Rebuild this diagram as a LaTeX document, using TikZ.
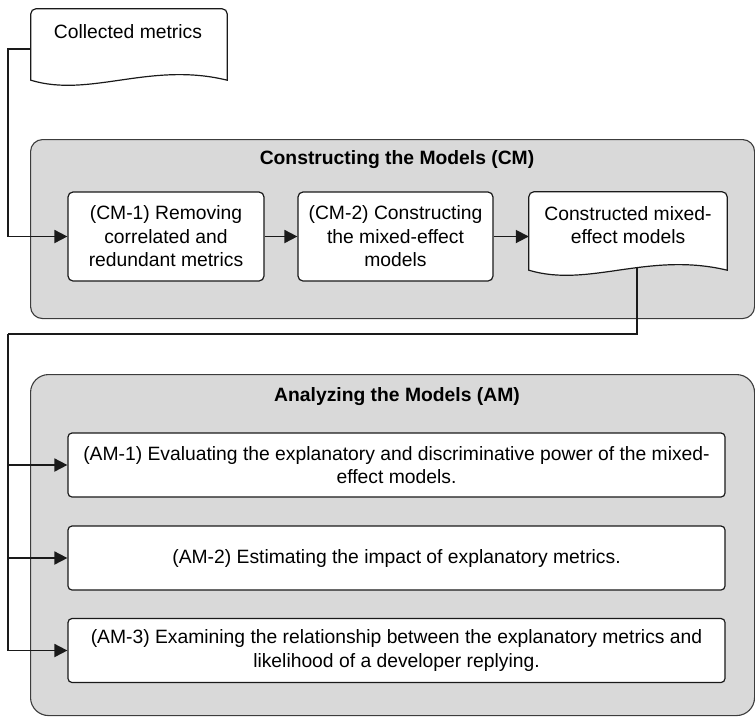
\documentclass[tikz,border=0pt]{standalone}
\usepackage{fontspec}
\setmainfont{Liberation Sans}
\usetikzlibrary{arrows.meta,calc}
\definecolor{panel}{HTML}{D9D9D9}
\definecolor{ink}{HTML}{1A1A1A}
\newcommand\dgtxt{\fontsize{19.3}{23.5}\selectfont}
\begin{document}
\begin{tikzpicture}[x=1pt,y=1pt,
  panelbox/.style={draw=ink!85, line width=1.1pt, fill=panel, inner sep=0pt, anchor=north west},
  stepbox/.style={draw=ink, line width=1.2pt, fill=white, rounded corners=5pt, align=center, font=\dgtxt, inner sep=0pt},
  docbox/.style={draw=none, inner sep=0pt},
  docline/.style={draw=ink, line width=1.2pt, fill=white},
  doctext/.style={align=center, font=\dgtxt, inner sep=0pt},
  titletext/.style={font=\dgtxt\bfseries, inner sep=0pt},
  conn/.style={draw=ink, line width=1.8pt, -{Triangle[length=13pt,width=13pt]}},
  wire/.style={draw=ink, line width=1.8pt}]
\useasboundingbox (0,0) rectangle (755,-716);

% containers
\node[panelbox, rounded corners=12pt, minimum width=724, minimum height=179] (cm) at (30,-139) {};
\node[panelbox, rounded corners=18pt, minimum width=724, minimum height=341] (am) at (30,-374) {};
\node[titletext] (cmtitle) at (397,-160) {Constructing the Models (CM)};
\node[titletext] (amtitle) at (397,-397) {Analyzing the Models (AM)};

% collected metrics document
\node[docbox, minimum width=196, minimum height=71] (col) at (129,-44.5) {};
\path[docline] (col.south west) -- ([yshift=-5]col.north west) arc[start angle=180,end angle=90,radius=5]
  -- ([xshift=-5]col.north east) arc[start angle=90,end angle=0,radius=5]
  -- (col.south east) .. controls +(-77,19) and +(59,-18) .. (col.south west) -- cycle;
\node[doctext] (coltext) at (128,-32) {Collected metrics};

% CM steps
\node[stepbox, minimum width=196, minimum height=89] (cm1) at (166,-236.5)
  {(CM-1) Removing\\correlated and\\redundant metrics};
\node[stepbox, minimum width=195, minimum height=89] (cm2) at (395.5,-236.5)
  {(CM-2) Constructing\\the mixed-effect\\models};

% constructed models document
\node[docbox, minimum width=198, minimum height=78] (cmd) at (628,-231) {};
\path[docline] (cmd.south west) -- ([yshift=-5]cmd.north west) arc[start angle=180,end angle=90,radius=5]
  -- ([xshift=-5]cmd.north east) arc[start angle=90,end angle=0,radius=5]
  -- (cmd.south east) .. controls +(-79,19) and +(60,-18) .. (cmd.south west) -- cycle;
\node[doctext] (cmdtext) at (628,-225) {Constructed mixed-\\effect models};

% AM steps
\node[stepbox, rounded corners=4pt, minimum width=657, minimum height=64] (am1) at (396.5,-465)
  {(AM-1) Evaluating the explanatory and discriminative power of the mixed-\\effect models.};
\node[stepbox, rounded corners=4pt, minimum width=657, minimum height=64] (am2) at (396.5,-558)
  {(AM-2) Estimating the impact of explanatory metrics.};
\node[stepbox, rounded corners=4pt, minimum width=657, minimum height=64] (am3) at (396.5,-650.5)
  {(AM-3) Examining the relationship between the explanatory metrics and\\likelihood of a developer replying.};

% connectors
\coordinate (colout) at (31,-49);
\coordinate (bus1) at (8,-49);
\draw[conn] (colout) -- (bus1) |- (cm1.west);
\draw[conn] (cm1.east) -- (cm2.west);
\draw[conn] (cm2.east) -- (cm2.east -| cmd.west);

\coordinate (cmdout) at (637,-267);
\coordinate (turn) at (637,-334);
\coordinate (bus2) at (8,-334);
\draw[wire] (cmdout) -- (turn) -- (bus2);
\draw[conn] (bus2) |- (am1.west);
\draw[conn] (bus2) |- (am2.west);
\draw[conn] (bus2) |- (am3.west);
\end{tikzpicture}
\end{document}
